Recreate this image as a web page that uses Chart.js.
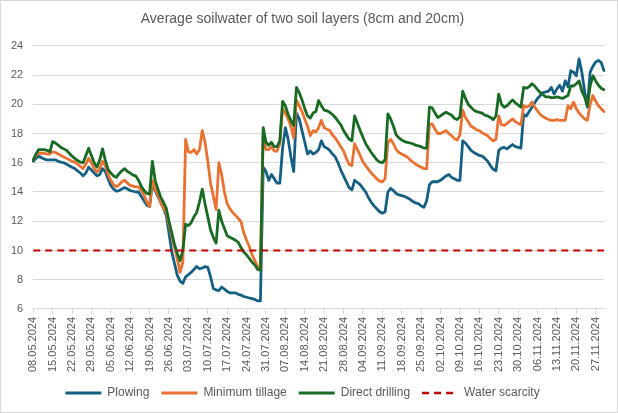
<!DOCTYPE html>
<html>
<head>
<meta charset="utf-8">
<script src="https://cdn.jsdelivr.net/npm/chart.js@4.4.1/dist/chart.umd.min.js"></script>
<style>
  html, body { margin: 0; background: #fff; }
  #wrap { position: relative; width: 616px; height: 411px; border: 1px solid #d9d9d9; }
</style>
</head>
<body>
<div id="wrap"><canvas id="soilChart"></canvas></div>
<script>
// daily readings, 08.05.2024 - 30.11.2024
var plowing = [
  16.1, 16.3, 16.45, 16.35, 16.25, 16.2, 16.2, 16.2, 16.2, 16.1,
  16.05, 16.0, 15.9, 15.8, 15.7, 15.6, 15.45, 15.3, 15.1, 15.3,
  15.7, 15.5, 15.3, 15.1, 15.2, 15.6, 15.4, 14.9, 14.45, 14.2,
  14.05, 14.1, 14.2, 14.3, 14.2, 14.1, 14.05, 14.0, 14.0, 13.7,
  13.4, 13.1, 13.0, 14.6, 14.1, 13.7, 13.3, 12.9, 12.4, 11.2,
  9.9, 9.1, 8.3, 7.9, 7.75, 8.2, 8.35, 8.5, 8.7, 8.9,
  8.75, 8.8, 8.9, 8.85, 8.2, 7.4, 7.3, 7.25, 7.5, 7.35,
  7.2, 7.1, 7.1, 7.1, 7.0, 6.95, 6.85, 6.8, 6.75, 6.7,
  6.65, 6.55, 6.55, 15.7, 15.4, 14.8, 15.2, 14.9, 14.6, 14.6,
  17.0, 18.4, 17.6, 16.4, 15.4, 19.4, 19.0, 18.2, 17.4, 16.6,
  16.8, 16.6, 16.7, 16.9, 17.5, 17.1, 17.0, 16.85, 16.6, 16.4,
  16.0, 15.5, 15.1, 14.7, 14.3, 14.15, 14.8, 14.65, 14.5, 14.25,
  14.0, 13.6, 13.3, 13.05, 12.85, 12.65, 12.55, 12.65, 14.0, 14.25,
  14.1, 13.9, 13.8, 13.75, 13.7, 13.6, 13.5, 13.35, 13.25, 13.2,
  13.05, 12.95, 13.4, 14.5, 14.7, 14.7, 14.7, 14.8, 14.95, 15.1,
  15.2, 15.0, 14.9, 14.8, 14.8, 17.5, 17.35, 17.1, 16.85, 16.7,
  16.6, 16.5, 16.45, 16.3, 16.1, 15.8, 15.55, 15.45, 16.85, 17.0,
  17.05, 16.95, 17.1, 17.25, 17.1, 17.05, 17.0, 19.3, 19.2, 19.5,
  19.8, 20.1, 20.4, 20.6, 20.8, 20.85, 20.9, 21.15, 20.7, 21.05,
  21.3, 20.9, 21.6, 21.2, 22.3, 22.2, 21.95, 23.1, 22.2, 20.9,
  19.8, 22.2, 22.6, 22.9, 23.0, 22.85, 22.3
];
var minimumTillage = [
  16.2, 16.5, 16.65, 16.65, 16.65, 16.6, 16.6, 16.75, 16.7, 16.6,
  16.5, 16.4, 16.3, 16.2, 16.1, 16.05, 15.9, 15.75, 15.6, 15.9,
  16.3, 16.0, 15.6, 15.35, 15.6, 16.1, 15.8, 15.2, 14.8, 14.5,
  14.35, 14.5, 14.7, 14.8, 14.6, 14.45, 14.4, 14.35, 14.35, 14.1,
  13.8, 13.3, 13.0, 14.8, 14.2, 13.8, 13.3, 12.9, 12.6, 11.8,
  11.0, 10.2, 9.4, 8.5, 9.2, 17.6, 16.75, 16.7, 16.9, 16.6,
  16.9, 18.2, 17.4, 16.1, 14.6, 13.7, 12.8, 16.0, 15.2, 14.0,
  13.2, 12.85, 12.6, 12.4, 12.2, 11.95, 11.2, 10.7, 10.25, 9.7,
  9.3, 8.9, 8.75, 18.0, 16.9, 16.9, 17.1, 16.8, 16.8, 17.3,
  19.7, 19.4, 19.0, 18.5, 17.7, 20.3, 19.9, 19.5, 19.0, 18.5,
  17.85, 18.2, 18.1, 18.4, 18.9, 18.4, 18.3, 18.2, 17.9, 17.7,
  17.4, 17.1, 16.8, 16.3, 15.9, 15.8, 17.3, 16.9, 16.5, 16.05,
  15.8, 15.55, 15.3, 15.1, 14.9, 14.75, 14.7, 14.9, 17.4, 17.6,
  17.3, 16.9, 16.7, 16.6, 16.5, 16.4, 16.2, 16.05, 15.9, 15.8,
  15.7, 15.6, 15.6, 18.65, 18.65, 18.3, 18.0, 18.0, 18.1, 18.2,
  18.0, 17.85, 17.65, 17.55, 17.9, 19.6, 19.1, 18.8, 18.5, 18.4,
  18.25, 18.2, 18.05, 17.95, 17.85, 17.65, 17.5, 17.6, 19.2, 18.6,
  18.55, 18.7, 18.85, 19.0, 18.8, 18.7, 18.6, 19.9, 19.8, 19.9,
  20.15, 19.8, 19.55, 19.3, 19.15, 19.05, 18.95, 18.9, 18.9, 18.95,
  18.9, 18.9, 18.9, 19.9, 19.7, 20.15, 19.7, 19.4, 19.2, 19.0,
  18.9, 20.0, 20.6, 20.2, 19.9, 19.7, 19.5
];
var directDrilling = [
  16.2, 16.6, 16.9, 16.9, 16.9, 16.85, 16.75, 17.45, 17.35, 17.2,
  17.05, 16.95, 16.85, 16.65, 16.45, 16.3, 16.15, 16.05, 16.0, 16.5,
  17.0, 16.5, 16.0, 15.7, 16.2, 16.95, 16.2, 15.55, 15.3, 15.1,
  15.0, 15.25, 15.45, 15.6, 15.4, 15.3, 15.15, 15.1, 14.8, 14.4,
  14.1, 13.9, 13.85, 16.1, 14.8, 14.2, 13.65, 13.3, 12.9, 12.0,
  11.2, 10.4, 9.8, 9.3, 10.0, 11.8, 11.7, 11.9, 12.3, 12.6,
  13.3, 14.2, 13.2, 12.3, 11.4, 10.9, 10.5, 12.75, 12.0, 11.5,
  11.0, 10.9, 10.8, 10.7, 10.55, 10.2, 9.9, 9.7, 9.45, 9.2,
  9.0, 8.7, 8.65, 18.4, 17.4, 17.2, 17.4, 17.1, 17.1, 17.5,
  20.2, 19.9, 19.3, 18.9, 18.55, 21.15, 20.8, 20.3, 19.7, 19.2,
  19.05, 19.4, 19.5, 20.25, 19.9, 19.6, 19.55, 19.45, 19.3, 19.1,
  18.85, 18.6, 18.2, 17.9, 17.6, 17.5, 19.2, 18.7, 18.2, 17.75,
  17.3, 17.0, 16.7, 16.45, 16.2, 16.05, 16.0, 16.2, 19.35, 19.0,
  18.5, 17.9, 17.7, 17.55, 17.45, 17.4, 17.35, 17.3, 17.2, 17.15,
  17.1, 17.0, 17.0, 19.8, 19.75, 19.4, 19.1, 19.2, 19.35, 19.45,
  19.35, 19.25, 19.05, 18.95, 19.15, 20.9, 20.4, 20.0, 19.8, 19.6,
  19.5, 19.45, 19.4, 19.25, 19.2, 19.1, 18.95, 19.2, 20.7, 20.0,
  19.8, 19.9, 20.1, 20.3, 20.1, 19.95, 19.8, 21.15, 21.1, 21.2,
  21.4, 21.25, 21.0, 20.8, 20.65, 20.5, 20.5, 20.45, 20.45, 20.5,
  20.45, 20.4, 20.5, 20.6, 21.25, 21.25, 21.4, 21.6, 20.9, 20.5,
  19.9, 21.25, 21.95, 21.6, 21.3, 21.1, 21.0
];
var scarcityLevel = 10;
var startDay = new Date(2024, 4, 8);

// one label per day, only every 7th is shown
var dates = [];
for (var i = 0; i < plowing.length; i++) {
  var d = new Date(startDay.getFullYear(), startDay.getMonth(), startDay.getDate() + i);
  var dd = String(d.getDate()).padStart(2, '0');
  var mm = String(d.getMonth() + 1).padStart(2, '0');
  dates.push(dd + '.' + mm + '.' + d.getFullYear());
}
var scarcity = dates.map(function () { return scarcityLevel; });

var grey = '#595959';
var font = 'Liberation Sans, Arial, sans-serif';

function series(label, values, color, order) {
  return {
    label: label,
    data: values,
    borderColor: color,
    backgroundColor: color,
    borderWidth: 2.8,
    pointRadius: 0,
    borderJoinStyle: 'round',
    borderCapStyle: 'round',
    order: order
  };
}

var ctx = document.getElementById('soilChart').getContext('2d');
var soilChart = new Chart(ctx, {
  type: 'line',
  data: {
    labels: dates,
    datasets: [
      series('Plowing', plowing, '#156082', 3),
      series('Minimum tillage', minimumTillage, '#E97132', 2),
      series('Direct drilling', directDrilling, '#196B24', 1),
      {
        label: 'Water scarcity',
        data: scarcity,
        borderColor: '#C00000',
        backgroundColor: '#C00000',
        borderWidth: 2,
        borderDash: [7, 5],
        pointRadius: 0,
        order: 0
      }
    ]
  },
  options: {
    responsive: true,
    maintainAspectRatio: false,
    animation: false,
    layout: { padding: { left: 0, right: 13, top: 2, bottom: 3 } },
    plugins: {
      title: {
        display: true,
        text: 'Average soilwater of two soil layers (8cm and 20cm)',
        color: grey,
        font: { family: font, size: 14, weight: 'normal' },
        padding: { top: 8, bottom: 18 }
      },
      legend: {
        position: 'bottom',
        labels: {
          usePointStyle: true,
          pointStyle: 'line',
          pointStyleWidth: 36,
          color: grey,
          font: { family: font, size: 12 },
          padding: 12,
          sort: function (a, b) { return a.datasetIndex - b.datasetIndex; },
          generateLabels: function (chart) {
            var items = Chart.defaults.plugins.legend.labels.generateLabels(chart);
            items.forEach(function (item) {
              var ds = chart.data.datasets[item.datasetIndex];
              item.lineDash = ds.borderDash || [];
              item.lineWidth = ds.borderDash ? 2.5 : 3;
              item.strokeStyle = ds.borderColor;
            });
            return items;
          }
        }
      },
      tooltip: { enabled: false }
    },
    scales: {
      x: {
        grid: { display: true, drawOnChartArea: false, color: '#d9d9d9', tickLength: 5 },
        border: { color: '#d9d9d9' },
        ticks: {
          autoSkip: false,
          maxRotation: 90,
          minRotation: 90,
          color: grey,
          font: { family: font, size: 11 },
          padding: 3,
          callback: function (value, index) {
            return index % 7 === 0 ? dates[index] : null;
          }
        }
      },
      y: {
        min: 6,
        max: 24,
        grid: { color: '#d9d9d9', drawTicks: false },
        border: { display: false },
        ticks: {
          stepSize: 2,
          color: grey,
          font: { family: font, size: 11 },
          padding: 10
        }
      }
    }
  }
});
</script>
</body>
</html>
